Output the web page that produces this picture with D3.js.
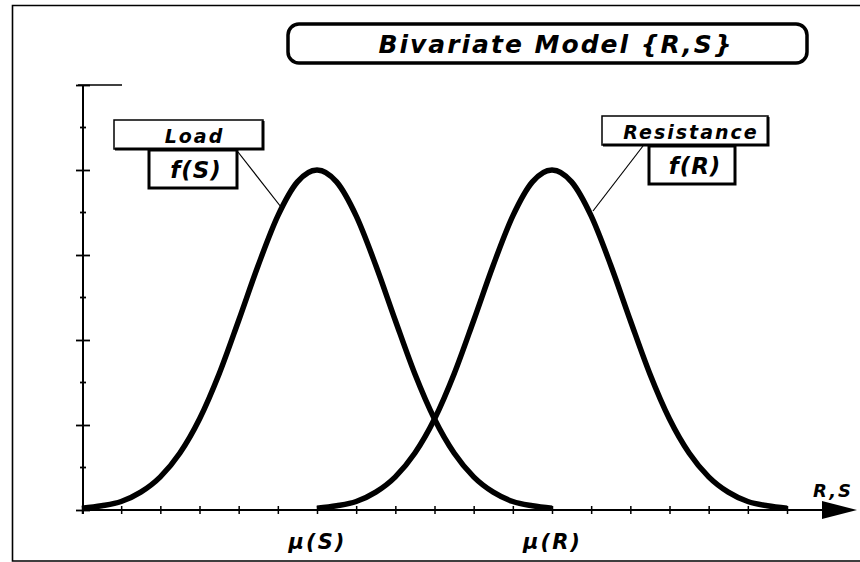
<!DOCTYPE html>
<html>
<head>
<meta charset="utf-8">
<script src="https://cdn.jsdelivr.net/npm/d3@7"></script>
<style>
  body { margin: 0; background: #fff; }
  svg { display: block; }
  .lbl { font-family: "DejaVu Sans", "Liberation Sans", Arial, sans-serif; font-weight: bold; font-style: italic; fill: #000; }
</style>
</head>
<body>
<div id="chart"></div>
<script>
// CHART START
const width = 860
const height = 562

// datos (alturas en unidades de tick mayor del eje y)
const title = "Bivariate Model {R,S}"
const loadX = [0, 0.5, 1, 1.5, 2, 2.5, 3, 3.5, 4, 4.5, 5, 5.5, 6, 6.5, 7, 7.5, 8, 8.5, 9, 9.5, 10, 10.5, 11, 11.5, 12]
const loadF = [0.02, 0.05, 0.10, 0.21, 0.39, 0.67, 1.07, 1.60, 2.23, 2.88, 3.46, 3.86, 4.00, 3.86, 3.46, 2.88, 2.23, 1.60, 1.07, 0.67, 0.39, 0.21, 0.10, 0.05, 0.02]
const resX = [6, 6.5, 7, 7.5, 8, 8.5, 9, 9.5, 10, 10.5, 11, 11.5, 12, 12.5, 13, 13.5, 14, 14.5, 15, 15.5, 16, 16.5, 17, 17.5, 18]
const resF = [0.02, 0.05, 0.10, 0.21, 0.39, 0.67, 1.07, 1.60, 2.23, 2.88, 3.46, 3.86, 4.00, 3.86, 3.46, 2.88, 2.23, 1.60, 1.07, 0.67, 0.39, 0.21, 0.10, 0.05, 0.02]
const xTicks = d3.range(0, 19)
const xTickLabels = {6: "\u03bc(S)", 12: "\u03bc(R)"}
const yMajor = [0, 1, 2, 3, 4, 5]
const yMinor = [0.5, 1.5, 2.5, 3.5, 4.5]
const axisName = "R,S"

const svg = d3.select("#chart")
    .append("svg")
    .attr("width", width)
    .attr("height", height)

svg.append("rect").attr("width", width).attr("height", height).attr("fill", "#fff")

// marco exterior
svg.append("path")
    .attr("d", "M860,5.5 H12.5 V561 H860")
    .attr("fill", "none")
    .attr("stroke", "#000")
    .attr("stroke-width", 1.6)

// escalas
const x = d3.scaleLinear().domain([0, 18]).range([82, 787])
const y = d3.scaleLinear().domain([0, 4]).range([510, 170])

// titulo
svg.append("rect")
    .attr("x", 288).attr("y", 24)
    .attr("width", 519).attr("height", 39)
    .attr("rx", 11)
    .attr("fill", "#fff")
    .attr("stroke", "#000")
    .attr("stroke-width", 3.5)
svg.append("text")
    .attr("class", "lbl")
    .attr("x", 556).attr("y", 53)
    .attr("text-anchor", "middle")
    .style("font-size", "25px")
    .attr("letter-spacing", 2)
    .text(title)

// eje x
const xAxis = d3.axisBottom(x)
    .tickValues(xTicks)
    .tickSize(4)
    .tickFormat(d => xTickLabels[d] || "")
const xAxisGroup = svg.append("g")
    .attr("transform", `translate(0,${y(0)})`)
    .call(xAxis)
xAxisGroup.select(".domain").remove()
xAxisGroup.selectAll(".tick line").attr("y1", -4).attr("y2", 4).attr("stroke-width", 1.5)
xAxisGroup.selectAll(".tick text")
    .attr("class", "lbl")
    .attr("y", 24)
    .attr("letter-spacing", 2)
    .style("font-size", "21px")
svg.append("line")
    .attr("x1", x(0)).attr("x2", 826)
    .attr("y1", y(0)).attr("y2", y(0))
    .attr("stroke", "#000").attr("stroke-width", 2)
svg.append("path")
    .attr("d", `M822,${y(0) - 9} L857,${y(0)} L822,${y(0) + 9} Z`)
    .attr("fill", "#000")
svg.append("text")
    .attr("class", "lbl")
    .attr("x", 833).attr("y", 497)
    .attr("text-anchor", "middle")
    .attr("letter-spacing", 2)
    .style("font-size", "18px")
    .text(axisName)

// eje y
const yAxis = d3.axisLeft(y).tickValues(yMajor).tickSize(7).tickFormat("")
const yAxisGroup = svg.append("g")
    .attr("transform", `translate(${x(0) + 1},0)`)
    .call(yAxis)
yAxisGroup.select(".domain").remove()
yAxisGroup.selectAll(".tick line").attr("x2", 7).attr("x1", -7).attr("stroke-width", 1.8)
yAxisGroup.append("g").selectAll("line")
    .data(yMinor)
    .join("line")
    .attr("x1", -3).attr("x2", 3)
    .attr("y1", d => y(d)).attr("y2", d => y(d))
    .attr("stroke", "#000").attr("stroke-width", 1.8)
svg.append("line")
    .attr("x1", x(0) + 1).attr("x2", x(0) + 1)
    .attr("y1", y(5)).attr("y2", y(0) + 4)
    .attr("stroke", "#000").attr("stroke-width", 2)
svg.append("line")
    .attr("x1", x(0) - 4).attr("x2", 122)
    .attr("y1", y(5)).attr("y2", y(5))
    .attr("stroke", "#000").attr("stroke-width", 1.6)

// curvas
const line = d3.line()
    .x(d => x(d[0]))
    .y(d => y(d[1]))
    .curve(d3.curveMonotoneX)

svg.append("path")
    .datum(loadX.map((v, i) => [v, loadF[i]]))
    .attr("d", line)
    .attr("fill", "none")
    .attr("stroke", "#000")
    .attr("stroke-width", 5.5)
svg.append("path")
    .datum(resX.map((v, i) => [v, resF[i]]))
    .attr("d", line)
    .attr("fill", "none")
    .attr("stroke", "#000")
    .attr("stroke-width", 5.5)

// etiquetas con linea guia
function labelPair(big, small, bx, by, bw, sx, sy, sw, lx1, ly1, lx2, ly2) {
    svg.append("line")
        .attr("x1", lx1).attr("y1", ly1).attr("x2", lx2).attr("y2", ly2)
        .attr("stroke", "#000").attr("stroke-width", 1.2)
    svg.append("rect")
        .attr("x", bx).attr("y", by).attr("width", bw).attr("height", 29)
        .attr("fill", "#fff").attr("stroke", "#000").attr("stroke-width", 1.5)
    svg.append("path")
        .attr("d", `M${bx + 1},${by + 29} H${bx + bw} V${by + 1}`)
        .attr("fill", "none").attr("stroke", "#000").attr("stroke-width", 3)
    svg.append("text")
        .attr("class", "lbl")
        .attr("x", bx + bw / 2 + 6).attr("y", by + 23)
        .attr("text-anchor", "middle")
        .style("font-size", "19px")
        .attr("letter-spacing", 2)
        .text(big)
    svg.append("rect")
        .attr("x", sx).attr("y", sy).attr("width", sw).attr("height", 38)
        .attr("fill", "#fff").attr("stroke", "#000").attr("stroke-width", 3)
    svg.append("text")
        .attr("class", "lbl")
        .attr("x", sx + sw / 2 + 3).attr("y", sy + 28)
        .attr("text-anchor", "middle")
        .style("font-size", "23px")
        .attr("letter-spacing", 1)
        .text(small)
}

labelPair("Load", "f(S)", 114, 120, 149, 149, 150, 88, 238, 152, x(6) - 36, 207)
labelPair("Resistance", "f(R)", 602, 116, 166, 649, 146, 86, 643, 146, x(12) + 41, 211)
</script>
</body>
</html>
